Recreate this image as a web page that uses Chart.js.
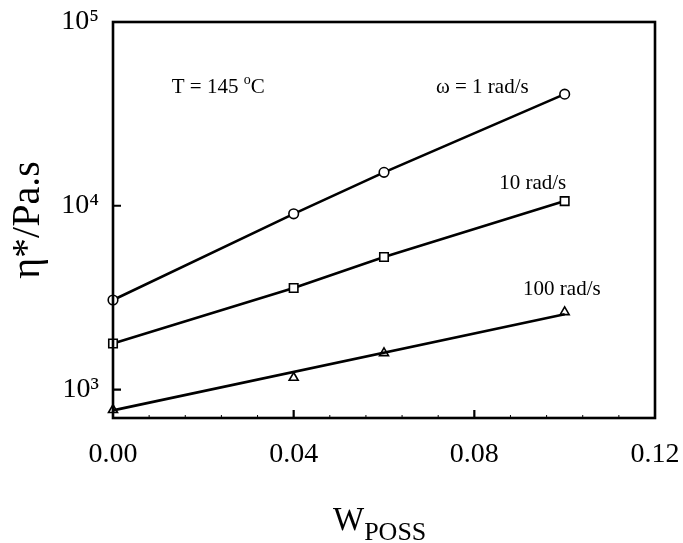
<!DOCTYPE html>
<html>
<head>
<meta charset="utf-8">
<script src="https://cdn.jsdelivr.net/npm/chart.js@4/dist/chart.umd.min.js"></script>
<style>
  html, body { margin: 0; padding: 0; background: #fff; }
  #wrap { width: 683px; height: 543px; }
</style>
</head>
<body>
<div id="wrap"><canvas id="c" width="683" height="543"></canvas></div>
<script>
// ---- data ----
const wPoss = [0, 0.04, 0.06, 0.1];
const eta1rad = [3070, 9040, 15200, 40500];     // omega = 1 rad/s (circles)
const eta10rad = [1780, 3570, 5260, 10600];     // 10 rad/s (squares)
const eta100rad = [775, 1160, 1580, 2640];      // 100 rad/s (triangles)
const fit100X = [0, 0.1];                       // fitted line for 100 rad/s
const fit100Y = [770, 2570];

const xTickValues = [0, 0.04, 0.08, 0.12];
const xTickLabels = ['0.00', '0.04', '0.08', '0.12'];
const yTickValues = [1e3, 1e4, 1e5];
const yTickLabels = ['10\u00B3', '10\u2074', '10\u2075'];

const seriesLabels = ['\u03C9 = 1 rad/s', '10 rad/s', '100 rad/s'];
const tempLabel = 'T = 145 ';

const SERIF = "'Liberation Serif', 'Times New Roman', serif";

function pts(xs, ys) { return xs.map((x, i) => ({ x: x, y: ys[i] })); }

const framePlugin = {
  id: 'frame',
  afterDatasetsDraw(chart) {
    const ctx = chart.ctx, a = chart.chartArea;
    const xs = chart.scales.x, ys = chart.scales.y;
    ctx.save();
    ctx.strokeStyle = '#000';
    ctx.lineWidth = 2.6;
    ctx.strokeRect(a.left, a.top, a.right - a.left, a.bottom - a.top);
    ctx.lineWidth = 2.2;
    ctx.beginPath();
    yTickValues.forEach(v => {
      const y = ys.getPixelForValue(v);
      if (y > a.top + 2 && y < a.bottom - 2) { ctx.moveTo(a.left, y); ctx.lineTo(a.left + 8, y); }
    });
    xTickValues.forEach(v => {
      const x = xs.getPixelForValue(v);
      if (x > a.left + 2 && x < a.right - 2) { ctx.moveTo(x, a.bottom); ctx.lineTo(x, a.bottom - 8); }
    });
    ctx.stroke();
    ctx.lineWidth = 1;
    ctx.beginPath();
    const step = (xTickValues[1] - xTickValues[0]) / 5;
    for (let i = 1; i < 15; i++) {
      if (i % 5 === 0) continue;
      const x = xs.getPixelForValue(i * step);
      ctx.moveTo(x, a.bottom); ctx.lineTo(x, a.bottom - 3);
    }
    ctx.stroke();

    // annotations
    ctx.fillStyle = '#000';
    ctx.textBaseline = 'middle';
    ctx.textAlign = 'left';
    ctx.font = '21px ' + SERIF;
    let tx = xs.getPixelForValue(0.0130), ty = ys.getPixelForValue(44200);
    ctx.fillText(tempLabel, tx, ty);
    let w = ctx.measureText(tempLabel).width;
    ctx.font = '14px ' + SERIF;
    ctx.fillText('o', tx + w, ty - 7);
    w += ctx.measureText('o').width;
    ctx.font = '21px ' + SERIF;
    ctx.fillText('C', tx + w, ty);

    ctx.fillText(seriesLabels[0], xs.getPixelForValue(0.0715), ys.getPixelForValue(44200));
    ctx.fillText(seriesLabels[1], xs.getPixelForValue(0.0855), ys.getPixelForValue(13200));
    ctx.fillText(seriesLabels[2], xs.getPixelForValue(0.0908), ys.getPixelForValue(3515));

    // x axis title with subscript
    ctx.textBaseline = 'alphabetic';
    ctx.font = '33px ' + SERIF;
    const wx = 333;
    ctx.fillText('W', wx, 530);
    const ww = ctx.measureText('W').width;
    ctx.font = '26px ' + SERIF;
    ctx.fillText('POSS', wx + ww, 540);
    ctx.restore();
  }
};

new Chart(document.getElementById('c'), {
  type: 'scatter',
  data: {
    datasets: [
      { label: seriesLabels[0], data: pts(wPoss, eta1rad), showLine: true, borderColor: '#000', borderWidth: 2.6,
        pointStyle: 'circle', pointRadius: 4.8, pointBorderWidth: 1.6, pointBackgroundColor: '#fff', pointBorderColor: '#000', clip: false },
      { label: seriesLabels[1], data: pts(wPoss, eta10rad), showLine: true, borderColor: '#000', borderWidth: 2.6,
        pointStyle: 'rect', pointRadius: 6, pointBorderWidth: 1.6, pointBackgroundColor: '#fff', pointBorderColor: '#000', clip: false },
      { label: 'fit 100', data: pts(fit100X, fit100Y), showLine: true, borderColor: '#000', borderWidth: 2.6,
        pointRadius: 0, clip: false },
      { label: seriesLabels[2], data: pts(wPoss, eta100rad), showLine: false,
        pointStyle: 'triangle', pointRadius: 5.2, pointBorderWidth: 1.6, pointBackgroundColor: '#fff', pointBorderColor: '#000', clip: false }
    ]
  },
  options: {
    responsive: false,
    animation: false,
    devicePixelRatio: 1,
    layout: { autoPadding: false, padding: { left: 0, right: 28, top: 22, bottom: 0 } },
    plugins: { legend: { display: false }, tooltip: { enabled: false } },
    scales: {
      x: {
        type: 'linear', min: 0, max: 0.12,
        grid: { display: false, drawTicks: false },
        border: { display: false },
        afterBuildTicks: s => { s.ticks = xTickValues.map(v => ({ value: v })); },
        afterFit: s => { s.height = 125; s.paddingLeft = 0; s.paddingRight = 0; },
        ticks: { color: '#000', font: { family: SERIF, size: 28 }, padding: 20, maxRotation: 0,
          callback: (v) => { const i = xTickValues.findIndex(t => Math.abs(t - v) < 1e-9); return i >= 0 ? xTickLabels[i] : ''; } }
      },
      y: {
        type: 'logarithmic', min: 700, max: 1e5,
        grid: { display: false, drawTicks: false },
        border: { display: false },
        afterBuildTicks: s => { s.ticks = yTickValues.map(v => ({ value: v })); },
        afterFit: s => { s.width = 113; s.paddingTop = 0; s.paddingBottom = 0; },
        ticks: { color: '#000', font: { family: SERIF, size: 28 }, padding: 14,
          callback: (v) => { const i = yTickValues.findIndex(t => Math.abs(t - v) / t < 1e-6); return i >= 0 ? yTickLabels[i] : ''; } },
        title: { display: true, text: '\u03B7*/Pa.s', color: '#000', font: { family: SERIF, size: 40 }, padding: { top: 4, bottom: 0 } }
      }
    }
  },
  plugins: [framePlugin]
});
</script>
</body>
</html>
